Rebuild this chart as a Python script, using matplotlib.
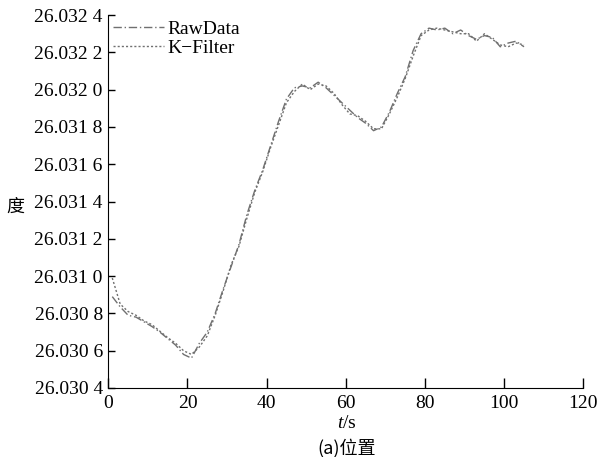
import matplotlib
matplotlib.use("Agg")
import matplotlib.pyplot as plt
from matplotlib.ticker import FuncFormatter, MultipleLocator

# time (s)
t = [1, 3, 5, 7, 9, 11, 13, 15, 17, 19, 21, 23, 25, 27, 29, 31, 33, 35, 37, 39,
     41, 43, 45, 47, 49, 51, 53, 55, 57, 59, 61, 63, 65, 67, 69, 71, 73, 75, 77, 79,
     81, 83, 85, 87, 89, 91, 93, 95, 97, 99, 101, 103, 105]
# values in degrees
raw_data = [26.030890, 26.030835, 26.030790, 26.030780, 26.030755, 26.030730, 26.030700,
            26.030665, 26.030630, 26.030580, 26.030560, 26.030640, 26.030700, 26.030800,
            26.030930, 26.031050, 26.031170, 26.031330, 26.031460, 26.031570, 26.031700,
            26.031830, 26.031950, 26.032010, 26.032020, 26.032010, 26.032040, 26.032010,
            26.031970, 26.031930, 26.031890, 26.031850, 26.031820, 26.031780, 26.031800,
            26.031880, 26.031980, 26.032070, 26.032210, 26.032300, 26.032330, 26.032320,
            26.032330, 26.032300, 26.032320, 26.032290, 26.032270, 26.032290, 26.032280,
            26.032230, 26.032250, 26.032260, 26.032230]
k_filter = [26.030990, 26.030850, 26.030810, 26.030790, 26.030760, 26.030740, 26.030705,
            26.030670, 26.030640, 26.030600, 26.030580, 26.030620, 26.030680, 26.030790,
            26.030920, 26.031060, 26.031160, 26.031310, 26.031450, 26.031560, 26.031690,
            26.031810, 26.031930, 26.031990, 26.032030, 26.032000, 26.032030, 26.032020,
            26.031980, 26.031920, 26.031870, 26.031860, 26.031830, 26.031790, 26.031790,
            26.031870, 26.031960, 26.032060, 26.032180, 26.032290, 26.032320, 26.032330,
            26.032320, 26.032310, 26.032300, 26.032300, 26.032260, 26.032300, 26.032270,
            26.032240, 26.032230, 26.032250, 26.032240]

serif = ["Liberation Serif", "DejaVu Serif"]
cjk = ["Noto Sans CJK SC", "Liberation Serif"]

plt.rcParams["mathtext.fontset"] = "custom"
plt.rcParams["mathtext.rm"] = "Liberation Serif"
plt.rcParams["mathtext.it"] = "Liberation Serif:italic"

fig = plt.figure(figsize=(6.13, 4.57), dpi=100)
ax = fig.add_axes([0.1767, 0.151, 0.775, 0.816])

ax.plot(t, raw_data, color="#707070", lw=1.0, linestyle=(0, (6, 2, 1, 2)), label="RawData")
ax.plot(t, k_filter, color="#707070", lw=1.0, linestyle=(0, (1.5, 1.5)), label="K\u2212Filter")

ax.set_xlim(0, 120)
ax.set_ylim(26.0304, 26.0324)
ax.xaxis.set_major_locator(MultipleLocator(20))
ax.yaxis.set_major_locator(MultipleLocator(0.0002))

def yfmt(v, pos):
    s = f"{v:.4f}"
    return s[:-1] + " " + s[-1]

ax.yaxis.set_major_formatter(FuncFormatter(yfmt))
ax.spines["top"].set_visible(False)
ax.spines["right"].set_visible(False)
ax.tick_params(axis="x", direction="in", length=7, width=1, pad=5)
ax.tick_params(axis="y", direction="in", length=5, width=1, pad=4)
for lab in ax.get_xticklabels() + ax.get_yticklabels():
    lab.set_fontfamily(serif)
    lab.set_fontsize(14)

fig.text(0.566, 1 - 424 / 457, "$t$/s", fontsize=14, family=serif, ha="center", va="center")
fig.text(0.025, 0.547, "度", fontsize=13, family=cjk, ha="center", va="center")
fig.text(0.566, 1 - 448 / 457, "(a)位置", fontsize=13, family=cjk, ha="center", va="center")

leg = ax.legend(loc="upper left", frameon=False, prop={"family": serif, "size": 14},
                handlelength=2.6, handletextpad=0.2, labelspacing=0.1,
                borderaxespad=0.1, borderpad=0.15)

fig.savefig("out.png", dpi=100)
